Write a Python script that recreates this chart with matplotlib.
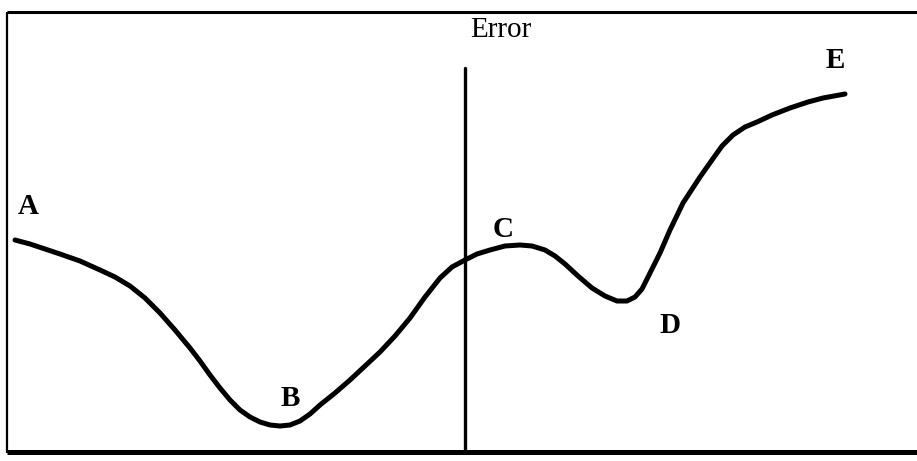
import matplotlib.pyplot as plt

# curve (x to the right, y downward, pixel-like units)
curve_x = [15, 30, 45, 60, 80, 100, 115, 130, 145, 160, 175, 190, 200, 210, 220, 230,
           240, 250, 260, 270, 280, 290, 300, 310, 320, 335, 350, 365, 380, 395, 410,
           425, 440, 452, 465, 477, 490, 505, 520, 532, 545, 555, 565, 578, 592, 605,
           617, 627, 635, 642, 650, 660, 670, 683, 700, 712, 722, 733, 745, 757, 772,
           790, 808, 823, 845]
curve_y = [240, 244, 249, 254, 261, 270, 277, 286, 298, 313, 330, 348, 361, 375, 388, 400,
           410, 417, 422, 425, 426, 425, 421, 414, 405, 393, 380, 366, 352, 336, 318,
           297, 278, 267, 260, 254, 250, 246, 245, 246, 250, 256, 264, 276, 288, 296,
           301, 301, 297, 289, 273, 253, 230, 203, 177, 160, 146, 135, 127, 122, 115,
           108, 102, 98, 94]

labels = ["A", "B", "C", "D", "E"]
label_x = [28, 290, 503, 670, 835]
label_y = [206, 398, 229, 325, 60]

error_x = 465
error_top = 68

fig = plt.figure(figsize=(9.17, 4.61), dpi=100)
ax = fig.add_axes([0, 0, 1, 1])
ax.set_xlim(0, 917)
ax.set_ylim(461, 0)
ax.axis("off")

# frame (open on the right)
ax.plot([7, 917], [12, 12], color="black", lw=2.2, solid_capstyle="butt")
ax.plot([7, 7], [12, 453], color="black", lw=1.6, solid_capstyle="butt")
ax.plot([7, 917], [452, 452], color="black", lw=3.6, solid_capstyle="butt")

# error axis
ax.plot([error_x, error_x], [error_top, 452], color="black", lw=2.4, solid_capstyle="round")
ax.text(error_x + 36, 30, "Error", fontsize=21, family="Liberation Serif",
        ha="center", va="center")

ax.plot(curve_x, curve_y, color="black", lw=3.6, solid_capstyle="round",
        solid_joinstyle="round")

for lab, x, y in zip(labels, label_x, label_y):
    ax.text(x, y, lab, fontsize=21, family="Liberation Serif", fontweight="bold",
            ha="center", va="center")

fig.savefig("out.png", dpi=100)
